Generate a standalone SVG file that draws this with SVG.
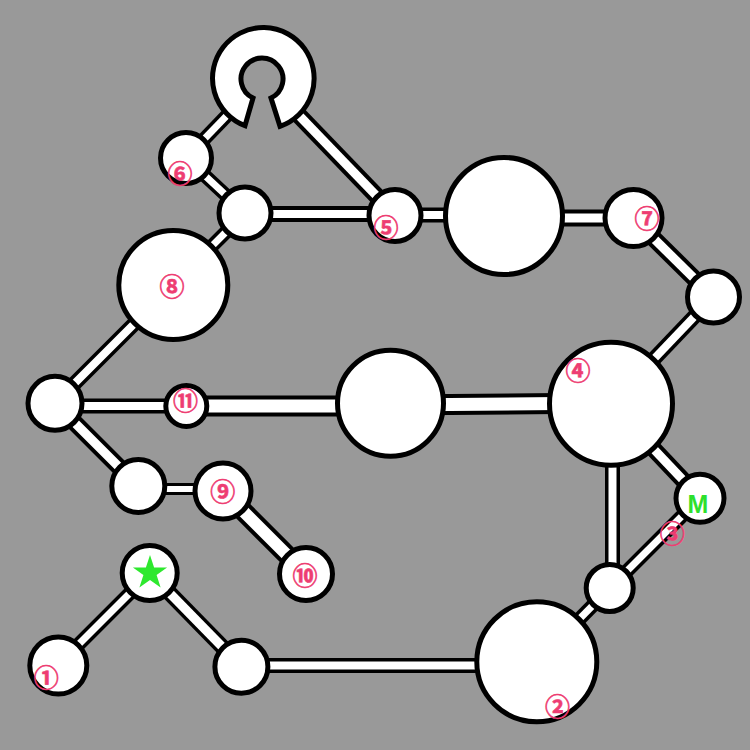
<svg xmlns="http://www.w3.org/2000/svg" width="750" height="750" viewBox="0 0 750 750">
<style>
.n{fill:#fff;stroke:#000;stroke-width:5}
.lb{font-family:"Noto Sans CJK JP","DejaVu Sans",sans-serif;font-weight:bold;font-size:25px;fill:#ee3d72;stroke:#ee3d72;stroke-width:0.6;text-anchor:middle;dominant-baseline:central}
.k{stroke:#000;stroke-linecap:butt}
.w{stroke:#fff;stroke-linecap:butt}
</style>
<rect width="750" height="750" fill="#999"/>
<g id="connectors">
<g class="k">
<line x1="229.7" y1="112.6" x2="186" y2="158" stroke-width="14"/>
<line x1="296.3" y1="112.6" x2="395" y2="215" stroke-width="17"/>
<line x1="186" y1="158" x2="245" y2="213" stroke-width="14"/>
<line x1="245" y1="214" x2="395" y2="214" stroke-width="16"/>
<line x1="395" y1="215" x2="504" y2="215" stroke-width="15"/>
<line x1="504" y1="218" x2="633" y2="218" stroke-width="17"/>
<line x1="633" y1="218" x2="713" y2="297" stroke-width="17"/>
<line x1="713" y1="297" x2="611" y2="404" stroke-width="15"/>
<line x1="611" y1="404" x2="700" y2="498" stroke-width="17"/>
<line x1="700" y1="498" x2="610" y2="588" stroke-width="14"/>
<line x1="612.5" y1="404" x2="612.5" y2="588" stroke-width="15"/>
<line x1="610" y1="588" x2="537" y2="662" stroke-width="14"/>
<line x1="390" y1="405" x2="611" y2="403" stroke-width="21"/>
<line x1="173" y1="285" x2="245" y2="213" stroke-width="14"/>
<line x1="55" y1="403" x2="173" y2="285" stroke-width="15"/>
<line x1="55" y1="406" x2="186" y2="406" stroke-width="15"/>
<line x1="186" y1="406" x2="390" y2="406" stroke-width="21"/>
<line x1="55" y1="403" x2="138" y2="486" stroke-width="17"/>
<line x1="138" y1="489" x2="223" y2="489" stroke-width="12"/>
<line x1="223" y1="491" x2="306" y2="574" stroke-width="20"/>
<line x1="150" y1="573" x2="58" y2="665" stroke-width="14"/>
<line x1="150" y1="573" x2="241" y2="666" stroke-width="16"/>
<line x1="241" y1="665.5" x2="537" y2="665.5" stroke-width="15"/>
</g>
<g class="w">
<line x1="229.7" y1="112.6" x2="186" y2="158" stroke-width="7"/>
<line x1="296.3" y1="112.6" x2="395" y2="215" stroke-width="9"/>
<line x1="186" y1="158" x2="245" y2="213" stroke-width="7"/>
<line x1="245" y1="214" x2="395" y2="214" stroke-width="8"/>
<line x1="395" y1="215" x2="504" y2="215" stroke-width="8"/>
<line x1="504" y1="218" x2="633" y2="218" stroke-width="9"/>
<line x1="633" y1="218" x2="713" y2="297" stroke-width="9"/>
<line x1="713" y1="297" x2="611" y2="404" stroke-width="8"/>
<line x1="611" y1="404" x2="700" y2="498" stroke-width="9"/>
<line x1="700" y1="498" x2="610" y2="588" stroke-width="7"/>
<line x1="612.5" y1="404" x2="612.5" y2="588" stroke-width="8"/>
<line x1="610" y1="588" x2="537" y2="662" stroke-width="7"/>
<line x1="390" y1="405" x2="611" y2="403" stroke-width="13"/>
<line x1="173" y1="285" x2="245" y2="213" stroke-width="7"/>
<line x1="55" y1="403" x2="173" y2="285" stroke-width="8"/>
<line x1="55" y1="406" x2="186" y2="406" stroke-width="8"/>
<line x1="186" y1="406" x2="390" y2="406" stroke-width="13"/>
<line x1="55" y1="403" x2="138" y2="486" stroke-width="9"/>
<line x1="138" y1="489" x2="223" y2="489" stroke-width="6"/>
<line x1="223" y1="491" x2="306" y2="574" stroke-width="12"/>
<line x1="150" y1="573" x2="58" y2="665" stroke-width="7"/>
<line x1="150" y1="573" x2="241" y2="666" stroke-width="9"/>
<line x1="241" y1="665.5" x2="537" y2="665.5" stroke-width="8"/>
</g>
</g>
<g id="node-c"><path class="n" d="M245,125.7 A50.8,50.8 0 1 1 280,126.3 L271,98 A21,21 0 1 0 253,98 Z"/></g>
<g id="node-6"><circle class="n" cx="186" cy="158" r="25.5"/><text class="lb" x="180" y="172">⑥</text></g>
<g id="node-a"><circle class="n" cx="245" cy="213" r="26"/></g>
<g id="node-5"><circle class="n" cx="395" cy="215.5" r="26"/><text class="lb" x="386" y="226">⑤</text></g>
<g id="node-big-top"><circle class="n" cx="504" cy="216" r="58.5"/></g>
<g id="node-7"><circle class="n" cx="633.5" cy="218" r="28.5"/><text class="lb" x="647" y="216.5">⑦</text></g>
<g id="node-r"><circle class="n" cx="713.5" cy="297" r="26"/></g>
<g id="node-8"><circle class="n" cx="173.3" cy="285" r="54.5"/><text class="lb" x="172" y="285">⑧</text></g>
<g id="node-left"><circle class="n" cx="55" cy="403.3" r="27"/></g>
<g id="node-11"><circle class="n" cx="186.3" cy="406" r="20.5"/><text class="lb" x="185.5" y="398.5">⑪</text></g>
<g id="node-center"><circle class="n" cx="390.5" cy="403.3" r="53"/></g>
<g id="node-4"><circle class="n" cx="611" cy="403.7" r="61.5"/><text class="lb" x="578" y="369">④</text></g>
<g id="node-m"><circle class="n" cx="700" cy="498.3" r="24"/><text x="698" y="504" font-family="Liberation Sans, Arial, sans-serif" font-weight="bold" font-size="25" fill="#2de02d" text-anchor="middle" dominant-baseline="central">M</text></g>
<g id="node-3lbl"><text class="lb" x="672.3" y="531.7" stroke="#fff" stroke-width="3.5" paint-order="stroke">③</text></g>
<g id="node-n"><circle class="n" cx="609.7" cy="588" r="23.5"/></g>
<g id="node-p"><circle class="n" cx="138.3" cy="486" r="26.5"/></g>
<g id="node-9"><circle class="n" cx="223" cy="491" r="28"/><text class="lb" x="222.7" y="490">⑨</text></g>
<g id="node-10"><circle class="n" cx="306" cy="574" r="26.5"/><text class="lb" x="305" y="574">⑩</text></g>
<g id="node-star"><circle class="n" cx="149.7" cy="573" r="27.5"/><polygon fill="#2ee82e" points="150,555 154.1,567.4 167.1,567.4 156.6,575.1 160.6,587.6 150,579.9 139.4,587.6 143.4,575.1 132.9,567.4 145.9,567.4"/></g>
<g id="node-1"><circle class="n" cx="58.3" cy="665.5" r="28.5"/><text class="lb" x="46.3" y="676">①</text></g>
<g id="node-q"><circle class="n" cx="241.4" cy="666.7" r="26.5"/></g>
<g id="node-2"><circle class="n" cx="536.8" cy="661.8" r="60"/><text class="lb" x="557.5" y="705">②</text></g>
</svg>
